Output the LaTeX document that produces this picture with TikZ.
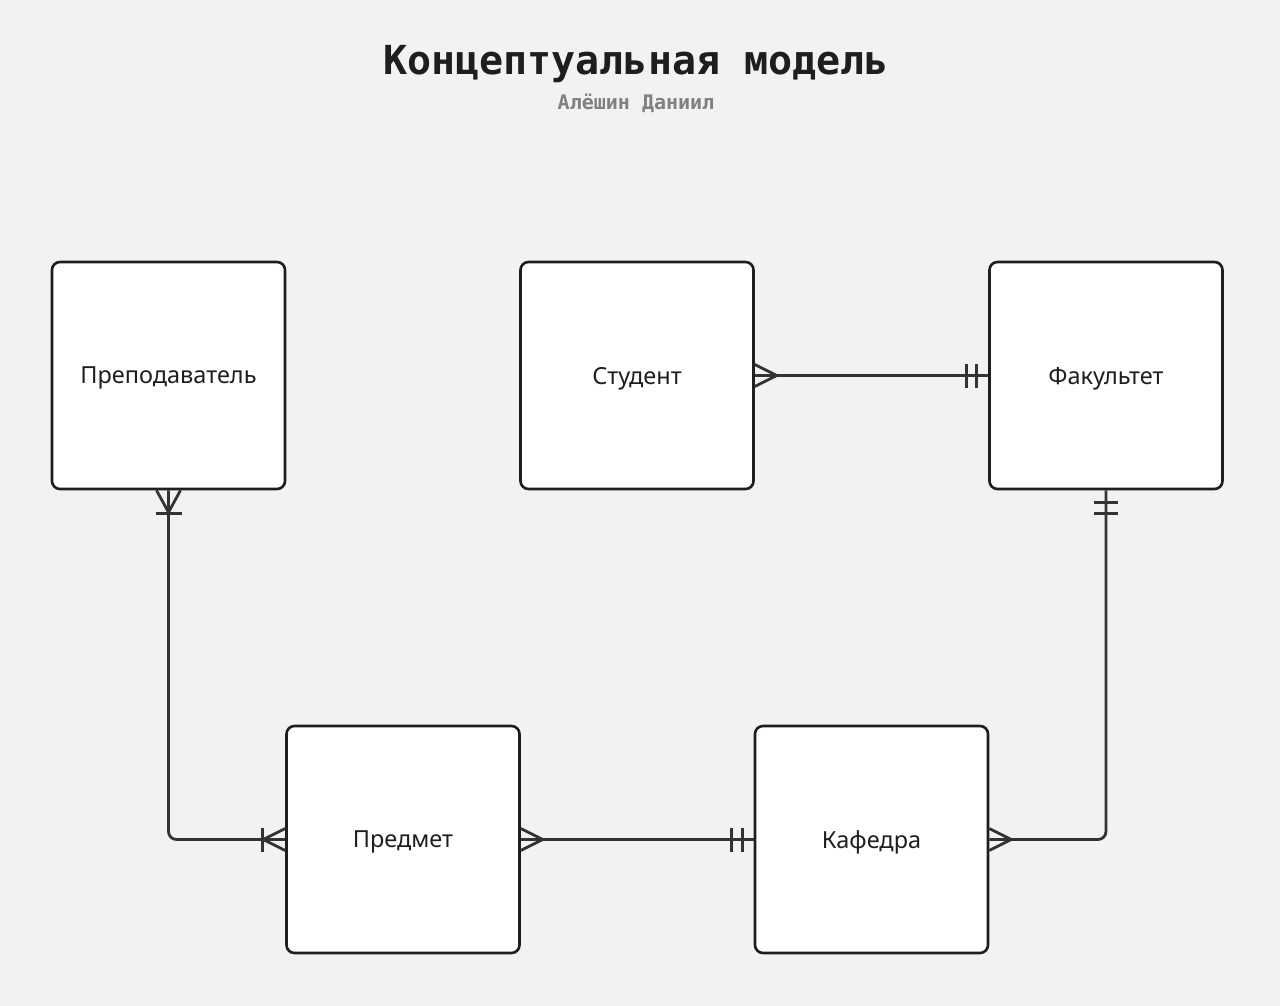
\documentclass[tikz,border=0pt]{standalone}
\usepackage{fontspec}
\setmainfont{Noto Sans}
\newfontfamily\titlefont{DejaVu Sans Mono}
\usetikzlibrary{positioning,calc}

\definecolor{bgcol}{HTML}{F2F2F2}
\definecolor{boxcol}{HTML}{1E1E1E}
\definecolor{linecol}{HTML}{333333}
\definecolor{subcol}{HTML}{808080}

\begin{document}
\begin{tikzpicture}[x=1pt, y=-1pt,
    entity/.style={draw=boxcol, fill=white, line width=2.6pt, rounded corners=8pt,
        minimum width=233pt, minimum height=227pt, inner sep=0pt, text depth=0pt,
        font=\fontsize{23.5}{26}\selectfont, text=boxcol},
    rel/.style={draw=linecol, line width=2.8pt},
    endmark/.style={draw=linecol, line width=2.8pt}]

    % фон
    \fill[bgcol] (0,0) rectangle (1280,1006);

    % заголовок
    \node[font=\titlefont\bfseries\fontsize{40}{44}\selectfont, text=boxcol] (title) at (636,64) {Концептуальная модель};
    \node[font=\titlefont\bfseries\fontsize{20}{24}\selectfont, text=subcol] (author) at (636,103) {Алёшин Даниил};

    % сущности
    \node[entity] (prep) at (168.5,375.5) {Преподаватель};
    \node[entity] (stud) at (637,375.5) {Студент};
    \node[entity] (fak) at (1106,375.5) {Факультет};
    \node[entity] (pred) at (403,839.5) {Предмет};
    \node[entity] (kaf) at (871.5,839.5) {Кафедра};

    % связи
    \draw[rel] (stud.east) -- (fak.west);
    \draw[rel, rounded corners=8pt] (prep.south) |- (pred.west);
    \draw[rel] (pred.east) -- (kaf.west);
    \draw[rel, rounded corners=8pt] (kaf.east) -| (fak.south);

    % Студент -- Факультет
    \draw[endmark] ($(stud.east)+(0,-11)$) -- ($(stud.east)+(22,0)$) -- ($(stud.east)+(0,11)$);
    \draw[endmark] ($(fak.west)+(-12,-12)$) -- ++(0,24);
    \draw[endmark] ($(fak.west)+(-22,-12)$) -- ++(0,24);

    % Преподаватель -- Предмет
    \draw[endmark] ($(prep.south)+(-12,0)$) -- ($(prep.south)+(0,22)$) -- ($(prep.south)+(12,0)$);
    \draw[endmark] ($(prep.south)+(-13,23)$) -- ++(26,0);
    \draw[endmark] ($(pred.west)+(0,-11)$) -- ($(pred.west)+(-22,0)$) -- ($(pred.west)+(0,11)$);
    \draw[endmark] ($(pred.west)+(-23,-12)$) -- ++(0,24);

    % Предмет -- Кафедра
    \draw[endmark] ($(pred.east)+(0,-11)$) -- ($(pred.east)+(22,0)$) -- ($(pred.east)+(0,11)$);
    \draw[endmark] ($(kaf.west)+(-11,-12)$) -- ++(0,24);
    \draw[endmark] ($(kaf.west)+(-22,-12)$) -- ++(0,24);

    % Кафедра -- Факультет
    \draw[endmark] ($(kaf.east)+(0,-11)$) -- ($(kaf.east)+(22,0)$) -- ($(kaf.east)+(0,11)$);
    \draw[endmark] ($(fak.south)+(-12,12)$) -- ++(24,0);
    \draw[endmark] ($(fak.south)+(-12,23)$) -- ++(24,0);
\end{tikzpicture}
\end{document}
